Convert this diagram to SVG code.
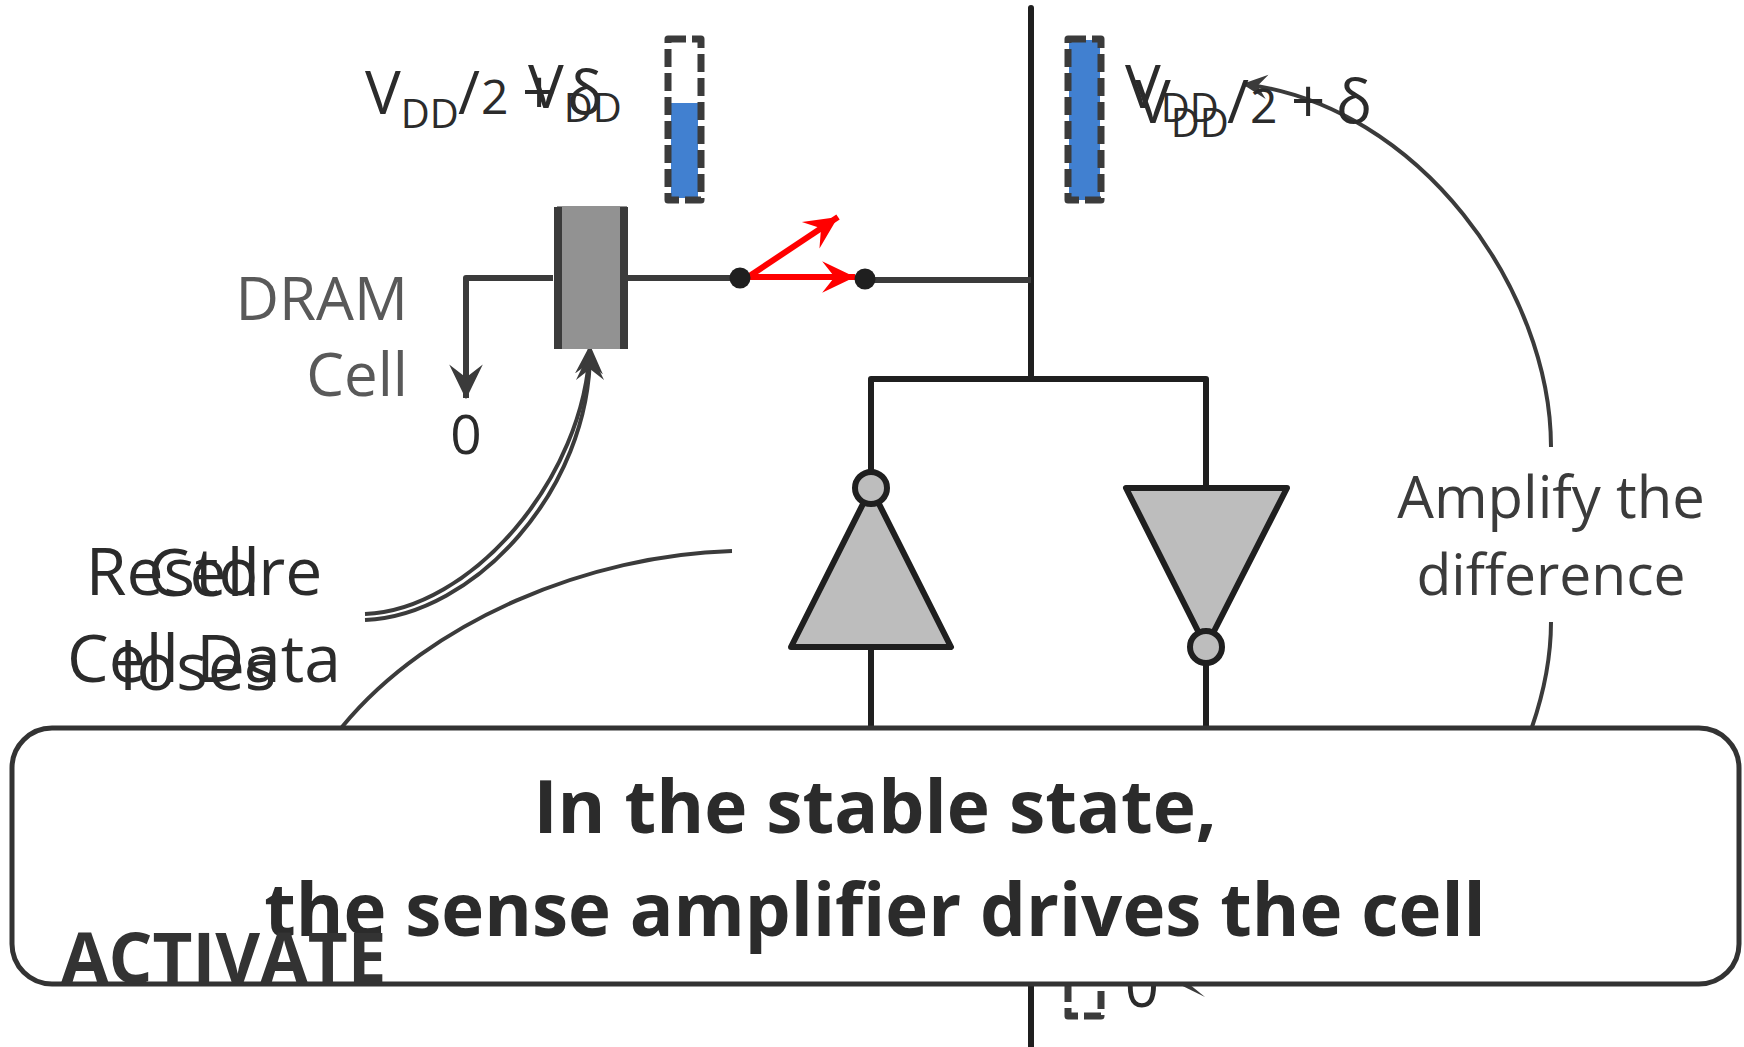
<svg xmlns="http://www.w3.org/2000/svg" width="1744" height="1047" viewBox="0 0 1744 1047">
<style>
text{font-family:"Open Sans","Noto Sans","DejaVu Sans",sans-serif;fill:#2b2b2b;font-size:60px}
.sub{font-size:40px}
.two{font-size:48px}
.big{font-size:66px}
.wire{fill:none;stroke:#1f1f1f;stroke-width:6;stroke-linejoin:round;stroke-linecap:round}
.wire2{fill:none;stroke:#3b3b3b;stroke-width:6;stroke-linejoin:round}
.arc{fill:none;stroke:#3b3b3b;stroke-width:4}
.red{fill:none;stroke:#ff0000;stroke-width:6}
.gate{fill:#bdbdbd;stroke:#1f1f1f;stroke-width:6;stroke-linejoin:round}
.dash{fill:none;stroke:#3b3b3b;stroke-width:7;stroke-dasharray:18 6;stroke-linejoin:round}
.c{text-anchor:middle}.r{text-anchor:end}
.b{font-weight:700}
</style>
<defs>
<marker id="ah" markerUnits="userSpaceOnUse" markerWidth="36" markerHeight="36" refX="28" refY="15" orient="auto" viewBox="0 0 30 30"><path d="M0 1 L29 15 L0 29 L11 15Z" fill="#3b3b3b"/></marker>
<marker id="am" markerUnits="userSpaceOnUse" markerWidth="30" markerHeight="30" refX="28" refY="15" orient="auto" viewBox="0 0 30 30"><path d="M0 1 L29 15 L0 29 L11 15Z" fill="#3b3b3b"/></marker>
<marker id="as" markerUnits="userSpaceOnUse" markerWidth="26" markerHeight="26" refX="28" refY="15" orient="auto" viewBox="0 0 30 30"><path d="M0 1 L29 15 L0 29 L11 15Z" fill="#3b3b3b"/></marker>
<marker id="rh" markerUnits="userSpaceOnUse" markerWidth="34" markerHeight="34" refX="29" refY="15" orient="auto" viewBox="0 0 30 30"><path d="M0 1 L29 15 L0 29 L11 15Z" fill="#ff0000"/></marker>
</defs>
<g id="connectors">
<path class="wire" d="M1031 8V378M1031 984V1047"/>
<path class="wire" d="M871 488V379H1206V488"/>
<path class="wire" d="M871 647V728M1206 647V728"/>
<path class="wire2" d="M553 278H466V398" marker-end="url(#ah)"/>
<path class="wire2" d="M627 278H740"/>
<path class="wire2" d="M865 280H1031"/>
<path class="red" d="M748 277L838 217" marker-end="url(#rh)"/>
<path class="red" d="M748 277H855" marker-end="url(#rh)"/>
<path class="arc" d="M365 614C470 610 585 480 590 346" marker-end="url(#am)"/>
<path class="arc" d="M365 620C475 615 590 490 590 352" marker-end="url(#am)"/>
<path class="arc" d="M732 551C590 555 430 620 342 727"/>
<path class="arc" d="M1551 447C1551 290 1420 105 1243 84" marker-end="url(#as)"/>
<path class="arc" d="M1551 622C1551 660 1543 695 1532 727"/>
</g>
<g id="cell">
<rect x="557" y="206" width="70" height="143" fill="#929292"/>
<rect x="554" y="207" width="8" height="142" fill="#3b3b3b"/>
<rect x="620" y="207" width="8" height="142" fill="#3b3b3b"/>
</g>
<g id="dots">
<circle cx="740" cy="278" r="10.5" fill="#1f1f1f"/>
<circle cx="865" cy="279" r="10.5" fill="#1f1f1f"/>
</g>
<g id="bar-left">
<rect x="671" y="103" width="27" height="95" fill="#4180d0"/>
<rect class="dash" x="668" y="39" width="33" height="161"/>
</g>
<g id="bar-right">
<rect x="1069" y="40" width="31" height="160" fill="#4180d0"/>
<rect class="dash" x="1068" y="39" width="33" height="161"/>
</g>
<g id="bar-bottom">
<rect class="dash" x="1068" y="856" width="33" height="160"/>
</g>
<g id="gate-left">
<path class="gate" d="M871 488L951 647H791Z"/>
<circle class="gate" cx="871" cy="488" r="16"/>
</g>
<g id="gate-right">
<path class="gate" d="M1126 488H1287L1206 647Z"/>
<circle class="gate" cx="1206" cy="647" r="16"/>
</g>
<g id="labels">
<text x="365" y="114">V<tspan class="sub" dy="14">DD</tspan><tspan x="458" dy="-14">/</tspan><tspan class="two" x="481">2</tspan><tspan x="522">+</tspan><tspan x="567">δ</tspan></text>
<text x="528" y="108">V<tspan class="sub" dy="14">DD</tspan></text>
<text x="1125" y="108">V<tspan class="sub" dy="14">DD</tspan></text>
<text x="1135" y="123">V<tspan class="sub" dy="14">DD</tspan><tspan x="1227" dy="-14">/</tspan><tspan class="two" x="1250">2</tspan><tspan x="1291">+</tspan><tspan x="1336">δ</tspan></text>
<text class="r" x="408" y="320" style="fill:#595959">DRAM</text>
<text class="r" x="408" y="396" style="fill:#595959">Cell</text>
<text class="c" x="466" y="454" style="font-size:55px">0</text>
<text class="c big" x="204" y="595">Restore</text>
<text class="c big" x="204" y="682">Cell Data</text>
<text class="c big" x="204" y="596">Cell</text>
<text class="c big" x="198" y="690">loses</text>
<text class="c" x="1551" y="518" style="fill:#3b3b3b;font-size:58px">Amplify the</text>
<text class="c" x="1551" y="595" style="fill:#3b3b3b;font-size:57px">difference</text>
<text class="c" x="1142" y="1007">0</text>
</g>
<path d="M1150 970L1205 997L1178 975Z" fill="#3b3b3b"/>
<g id="callout">
<rect x="12" y="728" width="1727" height="256" rx="40" fill="#fff" stroke="#333" stroke-width="5"/>
<text class="c b" x="875" y="833" style="font-size:73px">In the stable state,</text>
<text class="c b" x="875" y="936" style="font-size:72.6px">the sense amplifier drives the cell</text>
<text class="b" x="61" y="983" style="font-size:69px;fill:#333">ACTIVATE</text>
</g>
</svg>
